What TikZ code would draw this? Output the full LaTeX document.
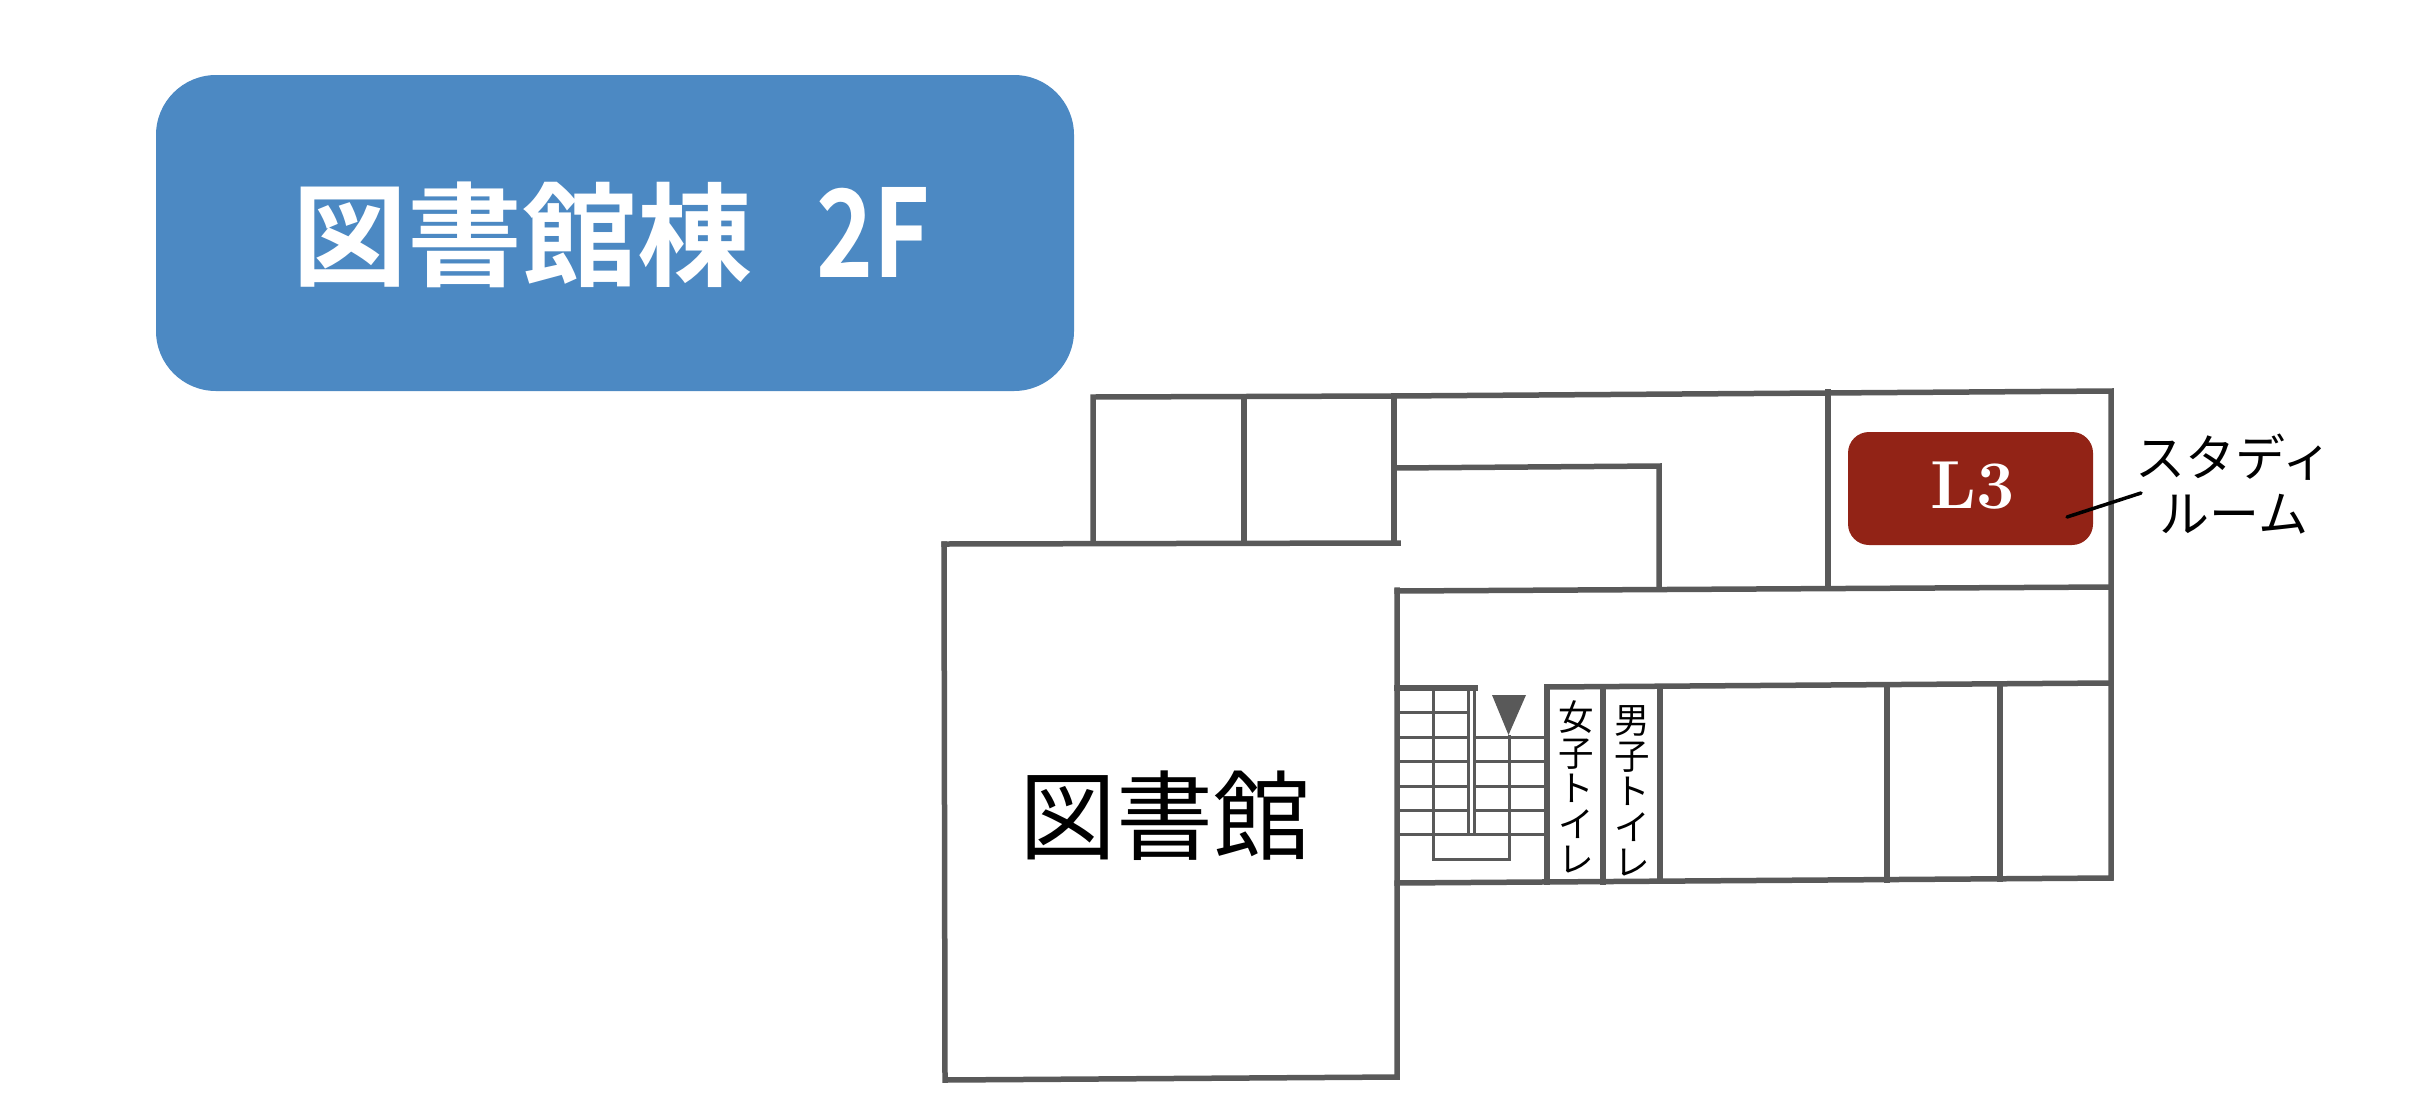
\documentclass[tikz,border=0pt]{standalone}
\usepackage{fontspec}
\usepackage{graphicx}
\newfontfamily\cjk{Noto Sans CJK JP}
\newfontfamily\cjkbold{Noto Sans CJK JP Bold}
\definecolor{titleblue}{HTML}{4C89C3}
\definecolor{roomred}{HTML}{922316}
\definecolor{wallgray}{HTML}{595959}
\tikzset{
  x=1pt,y=-1pt,
  wall/.style={draw=wallgray,line width=5.5pt,line cap=rect,line join=miter},
  thin wall/.style={draw=wallgray,line width=3pt,line cap=butt},
  label text/.style={inner sep=0pt,font=\cjk\fontsize{50}{56}\selectfont,align=center,text=black},
  wc text/.style={inner sep=0pt,font=\cjk\fontsize{35.5}{35.5}\selectfont,align=center,text=black},
}
\begin{document}
\begin{tikzpicture}
\useasboundingbox (0,0) rectangle (2424,1112);
% title
\fill[titleblue,rounded corners=60pt] (156,75) rectangle (1074,391);
\node[inner sep=0pt,text=white,anchor=center] (title) at (611,235)
  {\cjkbold\fontsize{118}{118}\selectfont\scalebox{0.975}[0.95]{図書館棟}\hspace{64pt}\scalebox{0.82}[1.03]{2F}};
% outer walls
\draw[wall] (944,544) -- (1398,543);
\draw[wall] (944,544) -- (945,1080) -- (1397,1077) -- (1397,590);
\draw[wall] (1093,543) -- (1093,397) -- (1394,396) -- (2111,391) -- (2111,878) -- (1397,883);
\draw[wall] (1244,397) -- (1244,543);
\draw[wall] (1394,396) -- (1394,543);
\draw[wall] (1394,468) -- (1659,466) -- (1659,588);
\draw[wall] (1397,591) -- (2111,587);
\draw[wall] (1828,392) -- (1828,587);
% lower rooms
\draw[wall] (1547,687) -- (2111,683);
\draw[wall] (1547,687) -- (1547,882);
\draw[wall] (1603,687) -- (1603,882);
\draw[wall] (1660,687) -- (1660,881);
\draw[wall] (1887,685) -- (1887,880);
\draw[wall] (2000,684) -- (2000,879);
% stairs
\draw[wall] (1397,688) -- (1475,688);
\foreach \yy in {712,737,761,786,810}{\draw[thin wall] (1397,\yy) -- (1468,\yy);}
\foreach \yy in {737,761,786,810}{\draw[thin wall] (1474,\yy) -- (1545,\yy);}
\draw[thin wall] (1397,834) -- (1545,834);
\draw[thin wall] (1468,688) -- (1468,834);
\draw[thin wall] (1474.5,688) -- (1474.5,834);
\draw[thin wall] (1433,688) -- (1433,859) -- (1509,859) -- (1509,735);
\fill[wallgray] (1492,695) -- (1526,695) -- (1508.5,735) -- cycle;
% study room
\fill[roomred,rounded corners=21pt] (1848,432) rectangle (2093,545);
\node[inner sep=0pt,text=white,font=\bfseries\fontsize{68}{68}\selectfont] (l3) at (1973,486) {L3};
\coordinate (leadA) at (2067,517);
\node[label text] (study) at (2234,484) {スタディ\\ルーム};
\coordinate (leadB) at (2141,493);
\draw[black,line width=3.5pt,line cap=round] (leadA) -- (leadB);
% labels
\node[inner sep=0pt,font=\cjk\fontsize{97}{97}\selectfont] (lib) at (1165,816) {図書館};
\node[wc text] (wcf) at (1576,787) {女\\子\\ト\\イ\\レ};
\node[wc text] (wcm) at (1632,791) {男\\子\\ト\\イ\\レ};
\end{tikzpicture}
\end{document}
